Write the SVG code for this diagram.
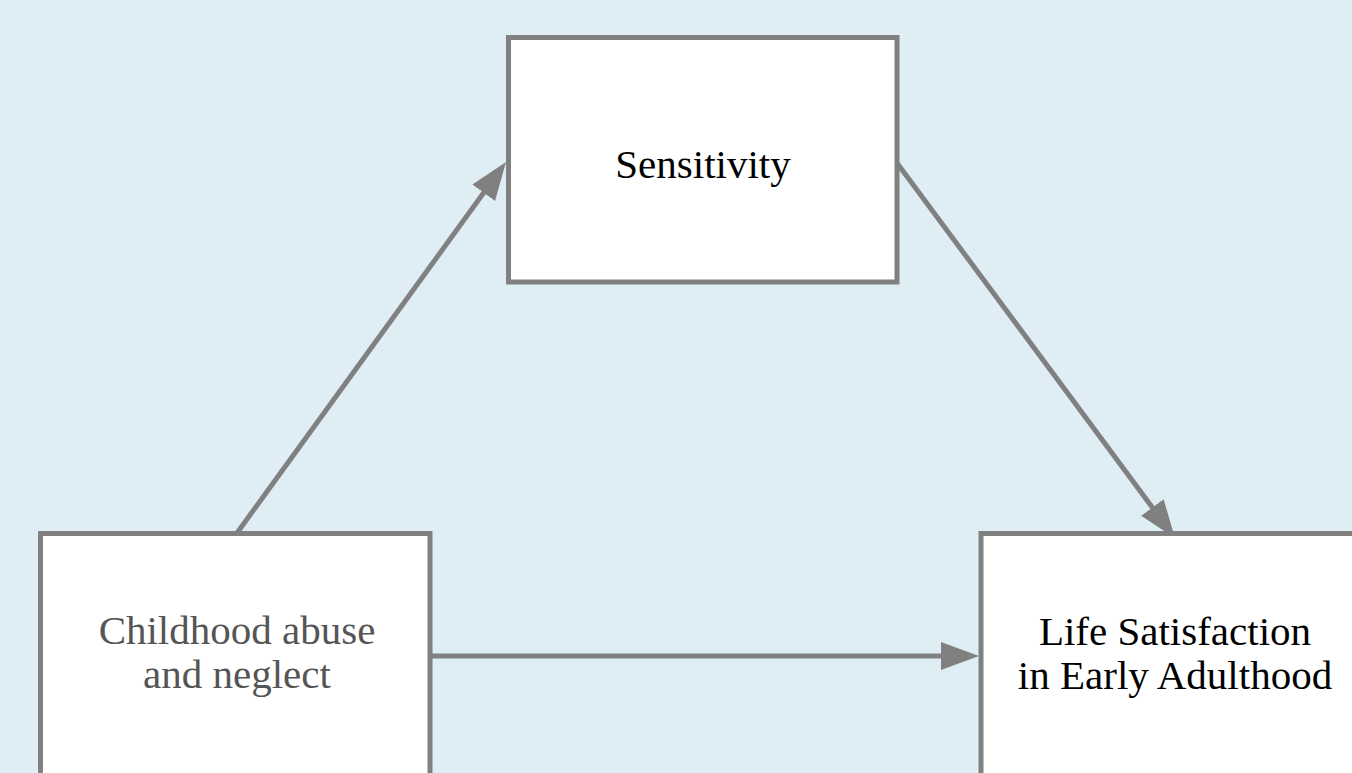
<svg xmlns="http://www.w3.org/2000/svg" width="1352" height="773" viewBox="0 0 1352 773">
<style>
.box{fill:#ffffff;stroke:#808080;stroke-width:5}
.conn{stroke:#808080;stroke-width:5;fill:none}
.lbl{font-family:"Liberation Serif","Times New Roman",serif;font-size:41px;text-anchor:middle;fill:#000000}
.gray{fill:#555555}
</style>
<defs>
<marker id="ah" markerUnits="userSpaceOnUse" markerWidth="44" markerHeight="32" refX="8" refY="14" orient="auto">
<path d="M0,0 L38,14 L0,28 Z" fill="#808080"/>
</marker>
</defs>
<rect x="0" y="0" width="1352" height="773" fill="#dfeef5"/>
<g id="connectors">
<line class="conn" x1="237" y1="533" x2="488.4" y2="186.3" marker-end="url(#ah)"/>
<line class="conn" x1="897" y1="163" x2="1157.1" y2="513.9" marker-end="url(#ah)"/>
<line class="conn" x1="430" y1="656" x2="949" y2="656" marker-end="url(#ah)"/>
</g>
<g id="sensitivity">
<rect class="box" x="508.5" y="37.5" width="388.5" height="244.5"/>
<text class="lbl" x="703" y="178">Sensitivity</text>
</g>
<g id="childhood">
<rect class="box" x="40.5" y="533.5" width="389.5" height="260"/>
<text class="lbl gray" x="237" y="644">Childhood abuse</text>
<text class="lbl gray" x="237" y="688">and neglect</text>
</g>
<g id="life">
<rect class="box" x="981" y="533.5" width="400" height="260"/>
<text class="lbl" x="1175" y="645">Life Satisfaction</text>
<text class="lbl" x="1175" y="689">in Early Adulthood</text>
</g>
</svg>
